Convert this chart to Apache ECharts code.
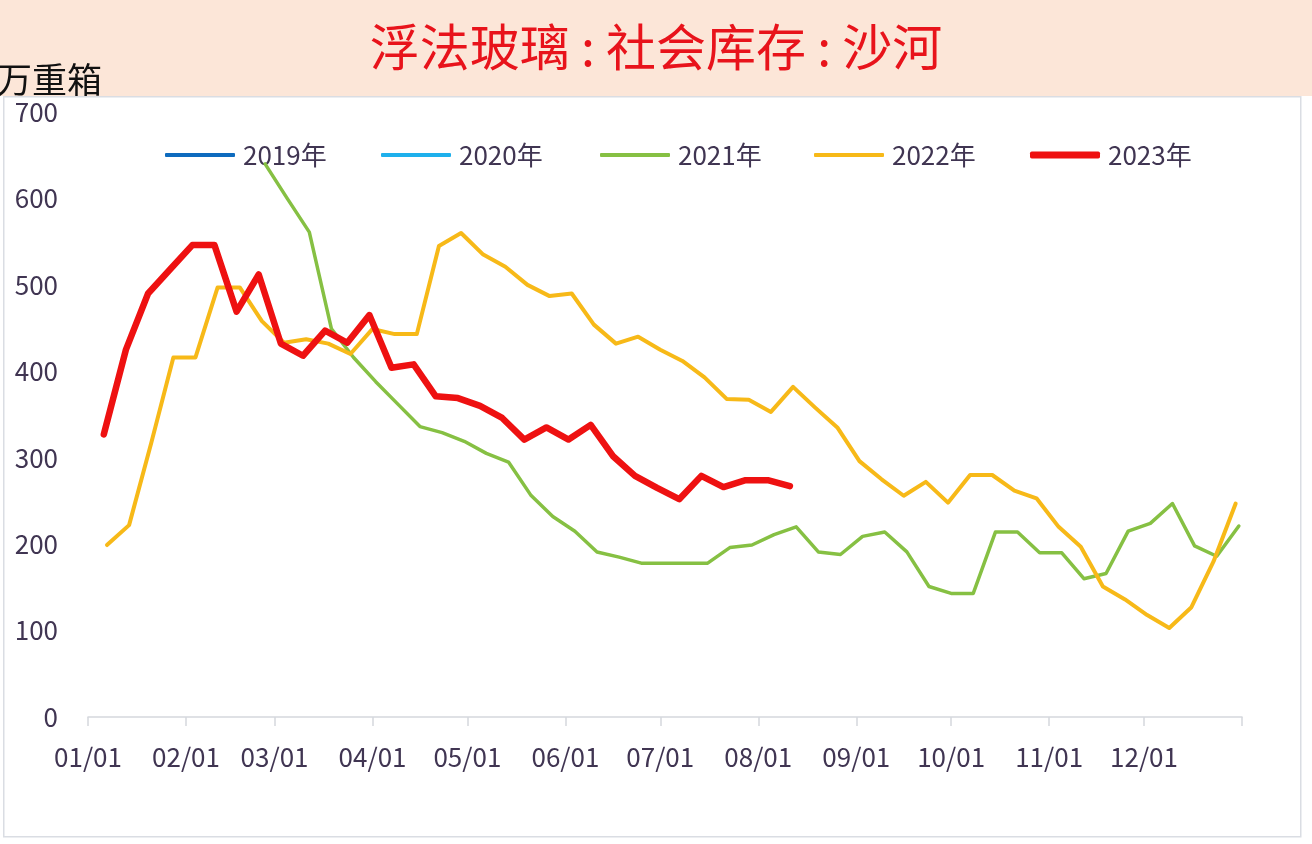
<!DOCTYPE html>
<html>
<head>
<meta charset="utf-8">
<title>浮法玻璃:社会库存:沙河</title>
<script src="https://cdn.jsdelivr.net/npm/echarts@6/dist/echarts.min.js"></script>
<style>
    html, body { margin: 0; padding: 0; background: #fff; }
    #main { width: 1312px; height: 844px; }
</style>
</head>
<body>
<div id="main"></div>
<script>
// tick labels on the x axis (month starts)
var monthLabels = ['01/01', '02/01', '03/01', '04/01', '05/01', '06/01', '07/01', '08/01', '09/01', '10/01', '11/01', '12/01'];
var monthStartDays = [0, 31, 59, 90, 120, 151, 181, 212, 243, 273, 304, 334];

var seriesNames = ['2019年', '2020年', '2021年', '2022年', '2023年'];

var dates2021 = ['02/26', '03/05', '03/12', '03/19', '03/26', '04/02', '04/09', '04/16', '04/23', '04/30',
    '05/07', '05/14', '05/21', '05/28', '06/04', '06/11', '06/18', '06/25', '07/02', '07/09',
    '07/16', '07/23', '07/30', '08/06', '08/13', '08/20', '08/27', '09/03', '09/10', '09/17',
    '09/24', '10/01', '10/08', '10/15', '10/22', '10/29', '11/05', '11/12', '11/19', '11/26',
    '12/03', '12/10', '12/17', '12/24', '12/31'];
var values2021 = [640, 600, 561, 449, 416, 388, 362, 336, 329, 319,
    305, 295, 257, 232, 215, 191, 185, 178, 178, 178,
    178, 196, 199, 211, 220, 191, 188, 209, 214, 191,
    151, 143, 143, 214, 214, 190, 190, 160, 166, 215,
    224, 247, 198, 186, 221];

var dates2022 = ['01/07', '01/14', '01/21', '01/28', '02/04', '02/11', '02/18', '02/25', '03/04', '03/11',
    '03/18', '03/25', '04/01', '04/08', '04/15', '04/22', '04/29', '05/06', '05/13', '05/20',
    '05/27', '06/03', '06/10', '06/17', '06/24', '07/01', '07/08', '07/15', '07/22', '07/29',
    '08/05', '08/12', '08/19', '08/26', '09/02', '09/09', '09/16', '09/23', '09/30', '10/07',
    '10/14', '10/21', '10/28', '11/04', '11/11', '11/18', '11/25', '12/02', '12/09', '12/16',
    '12/23', '12/30'];
var values2022 = [199, 222, 317, 416, 416, 497, 497, 458, 433, 437,
    432, 420, 449, 443, 443, 545, 560, 535, 521, 500,
    487, 490, 454, 432, 440, 425, 412, 393, 368, 367,
    353, 382, 358, 335, 296, 275, 256, 272, 248, 280,
    280, 262, 253, 220, 197, 151, 136, 118, 103, 127,
    180, 247];

var dates2023 = ['01/06', '01/13', '01/20', '01/27', '02/03', '02/10', '02/17', '02/24', '03/03', '03/10',
    '03/17', '03/24', '03/31', '04/07', '04/14', '04/21', '04/28', '05/05', '05/12', '05/19',
    '05/26', '06/02', '06/09', '06/16', '06/23', '06/30', '07/07', '07/14', '07/21', '07/28',
    '08/04', '08/11'];
var values2023 = [327, 425, 490, 518, 546, 546, 469, 512, 432, 418,
    447, 433, 465, 404, 408, 371, 369, 360, 346, 321,
    335, 321, 338, 302, 279, 265, 252, 279, 266, 274,
    274, 267];

var colors = ['#0E6BBE', '#1EB0EC', '#86C043', '#F7B918', '#EE1111'];
var lineWidths = [4, 4, 3.5, 4, 6.5];
var legendLeft = [165, 381, 600, 814, 1030];
var labelColor = '#403552';
var fontFamily = '"Noto Sans CJK SC", "Noto Sans", sans-serif';

function dayOfYear(md) {
    var p = md.split('/');
    return monthStartDays[parseInt(p[0], 10) - 1] + parseInt(p[1], 10) - 1;
}

function pairs(dates, values) {
    var out = [];
    for (var i = 0; i < dates.length; i++) {
        out.push([dayOfYear(dates[i]), values[i]]);
    }
    return out;
}

function drawChart() {
    var myChart = echarts.init(document.getElementById('main'));
    var seriesData = [[], [], pairs(dates2021, values2021), pairs(dates2022, values2022), pairs(dates2023, values2023)];

    var series = [];
    var legends = [];
    for (var i = 0; i < seriesNames.length; i++) {
        series.push({
            name: seriesNames[i],
            type: 'line',
            data: seriesData[i],
            showSymbol: false,
            symbol: 'none',
            lineStyle: { color: colors[i], width: lineWidths[i], join: 'round', cap: 'round' },
            itemStyle: { color: colors[i] },
            z: 2 + i
        });
        legends.push({
            data: [seriesNames[i]],
            left: legendLeft[i],
            top: 142,
            padding: 0,
            icon: 'roundRect',
            itemWidth: 70,
            itemHeight: i === 4 ? 7 : 4,
            selectedMode: false,
            textStyle: { color: labelColor, fontSize: 26, fontFamily: fontFamily, padding: [0, 0, 0, 3] }
        });
    }

    var ticks = monthStartDays.concat([365]);

    var option = {
        backgroundColor: '#fff',
        animation: false,
        graphic: [
            { type: 'rect', left: 0, top: 0, shape: { width: 1312, height: 96 }, style: { fill: '#FCE6D8' }, z: 0 },
            { type: 'rect', left: 3, top: 96, shape: { width: 1297, height: 740 }, style: { fill: '#fff', stroke: '#DADDE3', lineWidth: 1.5 }, z: 0 },
            {
                type: 'text', left: 'center', top: 22,
                style: { text: '浮法玻璃 : 社会库存 : 沙河', fill: '#E8131B', fontSize: 50, fontFamily: fontFamily },
                z: 1
            },
            {
                type: 'text', left: -3, top: 62,
                style: { text: '万重箱', fill: '#111', fontSize: 35, fontFamily: fontFamily },
                z: 1
            }
        ],
        legend: legends,
        grid: { left: 88, right: 70, top: 112, bottom: 127, containLabel: false },
        xAxis: {
            type: 'value',
            min: 0,
            max: 365,
            axisLine: { show: true, lineStyle: { color: '#D5D8DD', width: 1.5 } },
            axisTick: { show: true, length: 9, customValues: ticks, lineStyle: { color: '#D5D8DD', width: 1.5 } },
            axisLabel: {
                customValues: monthStartDays,
                margin: 27,
                color: labelColor,
                fontSize: 26,
                fontFamily: fontFamily,
                formatter: function (v) {
                    var idx = monthStartDays.indexOf(Math.round(v));
                    return idx >= 0 ? monthLabels[idx] : '';
                }
            },
            splitLine: { show: false }
        },
        yAxis: {
            type: 'value',
            min: 0,
            max: 700,
            interval: 100,
            axisLine: { show: false },
            axisTick: { show: false },
            axisLabel: { margin: 30, color: labelColor, fontSize: 26, fontFamily: fontFamily },
            splitLine: { show: false }
        },
        series: series
    };

    myChart.setOption(option);
}

drawChart();
</script>
</body>
</html>
